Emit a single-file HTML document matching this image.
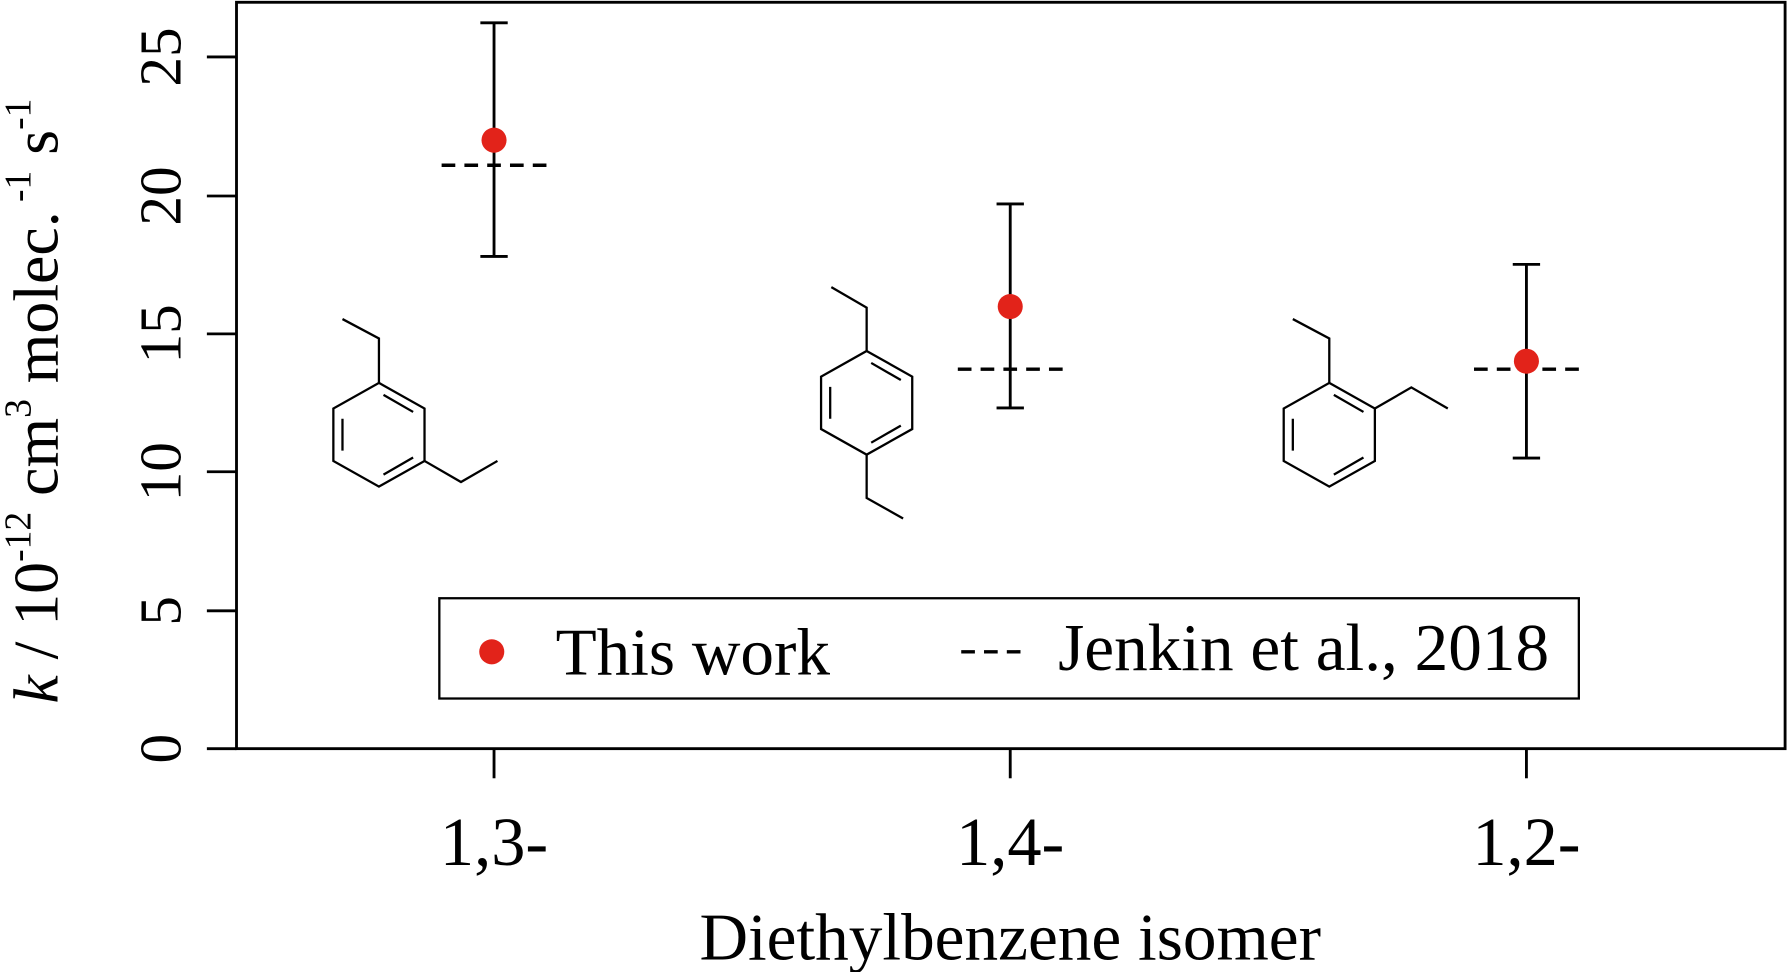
<!DOCTYPE html>
<html><head><meta charset="utf-8"><style>
html,body{margin:0;padding:0;background:#fff;}
svg{display:block;}
text{font-family:"Liberation Serif",serif;fill:#000;}
</style></head><body>
<svg width="1788" height="972" viewBox="0 0 1568 853" xmlns="http://www.w3.org/2000/svg">
<rect x="207" y="2" width="1359" height="655" fill="none" stroke="#000" stroke-width="2.5"/>
<g stroke="#000" stroke-width="2.5">
<line x1="207" y1="50" x2="181" y2="50"/>
<line x1="207" y1="172" x2="181" y2="172"/>
<line x1="207" y1="293" x2="181" y2="293"/>
<line x1="207" y1="414" x2="181" y2="414"/>
<line x1="207" y1="536" x2="181" y2="536"/>
<line x1="207" y1="657" x2="181" y2="657"/>
<line x1="433" y1="657" x2="433" y2="683"/>
<line x1="886" y1="657" x2="886" y2="683"/>
<line x1="1339" y1="657" x2="1339" y2="683"/>
</g>
<g font-size="52" text-anchor="middle">
<text transform="translate(158,657) rotate(-90)">0</text>
<text transform="translate(158,536) rotate(-90)">5</text>
<text transform="translate(158,414) rotate(-90)">10</text>
<text transform="translate(158,293) rotate(-90)">15</text>
<text transform="translate(158,172) rotate(-90)">20</text>
<text transform="translate(158,50) rotate(-90)">25</text>
</g>
<g font-size="60" text-anchor="middle">
<text x="433" y="759">1,3-</text>
<text x="886" y="759">1,4-</text>
<text x="1339" y="759">1,2-</text>
</g>
<text x="886" y="842" font-size="59" text-anchor="middle">Diethylbenzene isomer</text>
<text transform="translate(50,352) rotate(-90)" font-size="56" text-anchor="middle"><tspan font-style="italic">k</tspan> / 10<tspan font-size="33" dy="-24">-12</tspan><tspan dy="24"> cm</tspan><tspan font-size="33" dy="-24">3</tspan><tspan dy="24"> molec.</tspan><tspan font-size="33" dy="-24"> -1</tspan><tspan dy="24"> s</tspan><tspan font-size="33" dy="-24">-1</tspan></text>
<g stroke="#000" stroke-width="2.5" fill="none">
<path d="M433 20V225M421 20H445M421 225H445"/>
<path d="M886 179V358M874 179H898M874 358H898"/>
<path d="M1339 232V402M1327 232H1351M1327 402H1351"/>
</g>
<g stroke="#000" stroke-width="3" stroke-dasharray="12,8">
<line x1="387" y1="145" x2="481" y2="145"/>
<line x1="840" y1="324" x2="934" y2="324"/>
<line x1="1293" y1="324" x2="1387" y2="324"/>
</g>
<g fill="#e2231a">
<circle cx="433" cy="123" r="11"/>
<circle cx="886" cy="269" r="11"/>
<circle cx="1339" cy="317" r="11"/>
</g>
<g stroke="#000" stroke-width="2" fill="none">
<g transform="translate(332,381.5)">
<path d="M0,-45.5L40,-23L40,23L0,45.5L-40,23L-40,-23Z"/>
<path d="M4,-35L30,-20M-32,-14V14M30,20L4,35"/>
<path d="M0,-45.5V-84.5L-32,-101.5M40,23L72,41.5L104,23"/>
</g>
<g transform="translate(760,353.5)">
<path d="M0,-45.5L40,-23L40,23L0,45.5L-40,23L-40,-23Z"/>
<path d="M4,-35L30,-20M-32,-14V14M30,20L4,35"/>
<path d="M0,-45.5V-83.5L-31,-101.5M0,45.5V83.5L32,101.5"/>
</g>
<g transform="translate(1166,381.5)">
<path d="M0,-45.5L40,-23L40,23L0,45.5L-40,23L-40,-23Z"/>
<path d="M4,-35L30,-20M-32,-14V14M30,20L4,35"/>
<path d="M0,-45.5V-84.5L-32,-101.5M40,-23L72,-41.5L104,-23"/>
</g>
</g>
<rect x="385" y="525" width="1000" height="88" fill="#fff" stroke="#000" stroke-width="2"/>
<circle cx="431" cy="572" r="11" fill="#e2231a"/>
<line x1="843" y1="572" x2="900" y2="572" stroke="#000" stroke-width="3" stroke-dasharray="12,8"/>
<text x="487" y="592" font-size="59">This work</text>
<text x="928" y="588" font-size="59">Jenkin et al., 2018</text>
</svg>
</body></html>
